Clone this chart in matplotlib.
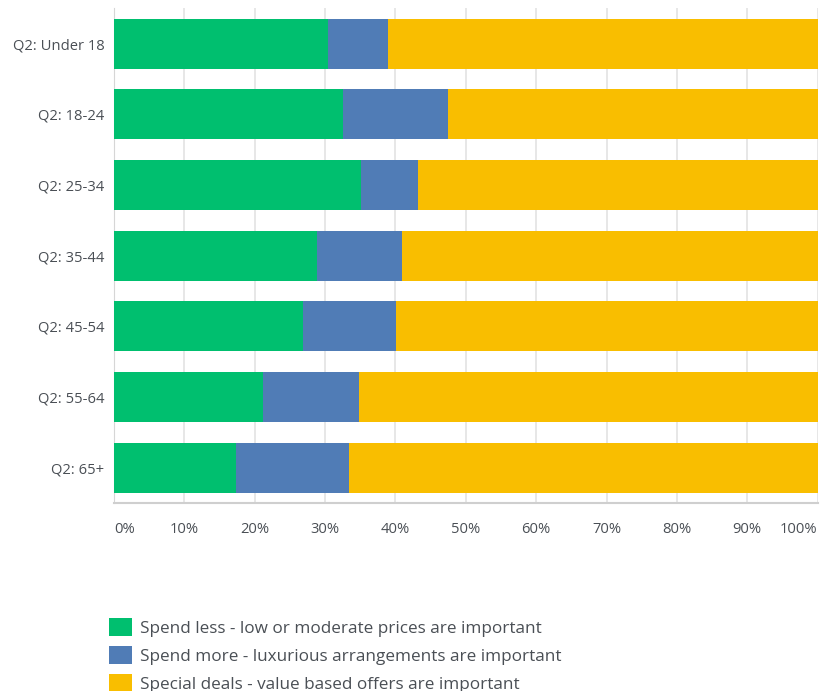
import matplotlib.pyplot as plt
from matplotlib.patches import Patch

groups = ["Q2: Under 18", "Q2: 18-24", "Q2: 25-34", "Q2: 35-44",
          "Q2: 45-54", "Q2: 55-64", "Q2: 65+"]
spend_less = [30.4, 32.5, 35.1, 28.8, 26.8, 21.2, 17.3]
spend_more = [8.6, 14.9, 8.1, 12.1, 13.3, 13.6, 16.1]
special_deals = [61.0, 52.6, 56.8, 59.1, 59.9, 65.2, 66.6]
series_names = ["Spend less - low or moderate prices are important",
                "Spend more - luxurious arrangements are important",
                "Special deals - value based offers are important"]
x_ticks = [0, 10, 20, 30, 40, 50, 60, 70, 80, 90, 100]

colors = ["#00bf6f", "#507cb6", "#f9be00"]
text_color = "#4a4f55"

plt.rcParams['font.family'] = ['Open Sans', 'DejaVu Sans']

fig = plt.figure(figsize=(8.23, 6.91), dpi=100)
ax = fig.add_axes([0.1385, 0.272, 0.855, 0.716])

ypos = list(range(len(groups)))
left = [0] * len(groups)
for vals, c in zip([spend_less, spend_more, special_deals], colors):
    ax.barh(ypos, vals, left=left, height=0.71, color=c, edgecolor='none', zorder=3)
    left = [a + b for a, b in zip(left, vals)]

ax.set_xlim(0, 100)
ax.set_ylim(len(groups) - 0.5, -0.5)
ax.set_yticks(ypos)
ax.set_yticklabels(groups)
ax.set_xticks(x_ticks)
ax.set_xticklabels([f"{t}%" for t in x_ticks])
labels = ax.get_xticklabels()
labels[0].set_horizontalalignment('left')
labels[-1].set_horizontalalignment('right')

ax.tick_params(axis='both', length=0, colors=text_color, labelsize=10.6)
ax.tick_params(axis='x', pad=14)
ax.tick_params(axis='y', pad=7)
ax.grid(axis='x', color='#e3e3e3', linewidth=1.2, zorder=0)
for s in ['top', 'right']:
    ax.spines[s].set_visible(False)
ax.spines['left'].set_color('#d6d6d6')
ax.spines['bottom'].set_color('#cfcfcf')
ax.spines['bottom'].set_linewidth(1.5)

handles = [Patch(facecolor=c, edgecolor='none') for c in colors]
fig.legend(handles, series_names, loc='upper left', bbox_to_anchor=(0.133, 0.106),
           frameon=False, fontsize=12.3, labelcolor=text_color,
           handlelength=1.3, handleheight=1.3, handletextpad=0.5,
           labelspacing=0.52, borderaxespad=0, borderpad=0)

fig.savefig("out.png", dpi=100)
